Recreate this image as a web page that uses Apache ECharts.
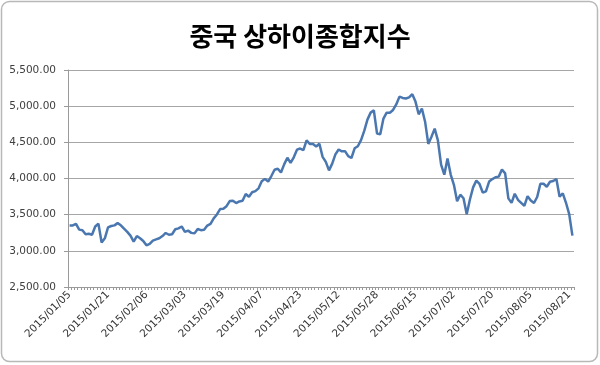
<!DOCTYPE html>
<html><head><meta charset="utf-8">
<script src="https://cdn.jsdelivr.net/npm/echarts@6/dist/echarts.min.js"></script>
<style>html,body{margin:0;padding:0;background:#fff}#c{width:600px;height:365px}</style>
</head><body><div id="c"></div>
<script>
const titleText = '중국 상하이종합지수';
const dates = [
'2015/01/05','2015/01/06','2015/01/07','2015/01/08','2015/01/09','2015/01/12','2015/01/13','2015/01/14','2015/01/15','2015/01/16',
'2015/01/19','2015/01/20','2015/01/21','2015/01/22','2015/01/23','2015/01/26','2015/01/27','2015/01/28','2015/01/29','2015/01/30',
'2015/02/02','2015/02/03','2015/02/04','2015/02/05','2015/02/06','2015/02/09','2015/02/10','2015/02/11','2015/02/12','2015/02/13',
'2015/02/16','2015/02/17','2015/02/25','2015/02/26','2015/02/27',
'2015/03/02','2015/03/03','2015/03/04','2015/03/05','2015/03/06','2015/03/09','2015/03/10','2015/03/11','2015/03/12','2015/03/13',
'2015/03/16','2015/03/17','2015/03/18','2015/03/19','2015/03/20','2015/03/23','2015/03/24','2015/03/25','2015/03/26','2015/03/27',
'2015/03/30','2015/03/31',
'2015/04/01','2015/04/02','2015/04/03','2015/04/07','2015/04/08','2015/04/09','2015/04/10','2015/04/13','2015/04/14','2015/04/15',
'2015/04/16','2015/04/17','2015/04/20','2015/04/21','2015/04/22','2015/04/23','2015/04/24','2015/04/27','2015/04/28','2015/04/29','2015/04/30',
'2015/05/04','2015/05/05','2015/05/06','2015/05/07','2015/05/08','2015/05/11','2015/05/12','2015/05/13','2015/05/14','2015/05/15',
'2015/05/18','2015/05/19','2015/05/20','2015/05/21','2015/05/22','2015/05/25','2015/05/26','2015/05/27','2015/05/28','2015/05/29',
'2015/06/01','2015/06/02','2015/06/03','2015/06/04','2015/06/05','2015/06/08','2015/06/09','2015/06/10','2015/06/11','2015/06/12',
'2015/06/15','2015/06/16','2015/06/17','2015/06/18','2015/06/19','2015/06/23','2015/06/24','2015/06/25','2015/06/26','2015/06/29','2015/06/30',
'2015/07/01','2015/07/02','2015/07/03','2015/07/06','2015/07/07','2015/07/08','2015/07/09','2015/07/10','2015/07/13','2015/07/14',
'2015/07/15','2015/07/16','2015/07/17','2015/07/20','2015/07/21','2015/07/22','2015/07/23','2015/07/24','2015/07/27','2015/07/28',
'2015/07/29','2015/07/30','2015/07/31',
'2015/08/03','2015/08/04','2015/08/05','2015/08/06','2015/08/07','2015/08/10','2015/08/11','2015/08/12','2015/08/13','2015/08/14',
'2015/08/17','2015/08/18','2015/08/19','2015/08/20','2015/08/21','2015/08/24'
];
const closes = [
3350.52,3351.45,3373.95,3293.46,3285.41,3229.32,3235.30,3222.44,3336.45,3376.50,
3116.35,3173.05,3323.61,3343.34,3351.76,3383.18,3352.96,3305.74,3262.30,3210.36,
3128.30,3204.91,3174.13,3136.53,3075.91,3095.12,3141.59,3157.70,3173.42,3203.83,
3246.91,3222.36,3228.84,3298.36,3310.30,
3336.28,3263.05,3279.53,3248.48,3241.19,3302.41,3286.07,3290.90,3349.32,3372.91,
3449.30,3502.85,3577.30,3582.27,3617.32,3687.73,3691.41,3660.73,3682.09,3691.10,
3786.57,3747.90,
3810.29,3825.78,3863.93,3961.38,3994.81,3957.53,4034.31,4121.71,4135.56,4084.16,
4194.82,4287.30,4217.08,4293.62,4398.49,4414.51,4393.69,4527.40,4476.62,4476.21,4441.66,
4480.46,4298.71,4229.27,4112.21,4205.92,4333.58,4401.22,4375.76,4378.31,4308.69,
4283.49,4417.55,4446.29,4529.42,4657.60,4813.80,4910.90,4941.71,4620.27,4611.74,
4828.74,4910.53,4909.98,4947.10,5023.10,5131.88,5113.53,5106.04,5121.59,5166.35,
5062.99,4887.43,4967.90,4785.36,4478.36,4576.49,4690.15,4527.78,4192.87,4053.03,4277.22,
4053.70,3912.77,3686.92,3775.91,3727.12,3507.19,3709.33,3877.80,3970.39,3924.49,
3805.70,3823.18,3957.35,3992.11,4017.67,4026.04,4123.92,4070.91,3725.56,3663.00,
3789.17,3705.77,3663.73,
3622.91,3756.54,3694.57,3661.54,3744.20,3928.42,3927.91,3886.32,3954.56,3965.33,
3993.67,3748.16,3794.11,3664.29,3507.74,3209.91
];
const chart = echarts.init(document.getElementById('c'), null, {renderer:'canvas'});
chart.setOption({
  animation:false,
  backgroundColor:'#fff',
  graphic:[{type:'rect',shape:{x:1.5,y:1.5,width:596,height:360,r:8},style:{fill:'none',stroke:'#b8b8b8',lineWidth:1.5}}],
  title:{text:titleText,left:'center',top:18,textStyle:{fontFamily:'Noto Sans CJK KR',fontWeight:'bold',fontSize:26,color:'#000'}},
  grid:{left:68,right:26,top:70,bottom:78,containLabel:false},
  xAxis:{type:'category',data:dates,boundaryGap:true,
    axisLine:{lineStyle:{color:'#9a9a9a',width:1}},
    axisTick:{show:true,interval:0,length:3,lineStyle:{color:'#9a9a9a'}},
    axisLabel:{interval:11,rotate:45,fontFamily:'DejaVu Sans',fontSize:10.5,color:'#333',margin:6},
    splitLine:{show:false}},
  yAxis:{type:'value',min:2500,max:5500,interval:500,
    axisLine:{show:true,lineStyle:{color:'#9a9a9a'}},
    axisTick:{show:true,length:4,lineStyle:{color:'#9a9a9a'}},
    axisLabel:{fontFamily:'DejaVu Sans',fontSize:10.5,color:'#404040',margin:12,
      formatter:v=>v.toLocaleString('en-US',{minimumFractionDigits:2,maximumFractionDigits:2})},
    splitLine:{lineStyle:{color:'#a6a6a6',width:1}}},
  series:[{type:'line',data:closes,showSymbol:false,symbol:'none',
    lineStyle:{color:'#4a77b0',width:2.5}}]
});
</script></body></html>
